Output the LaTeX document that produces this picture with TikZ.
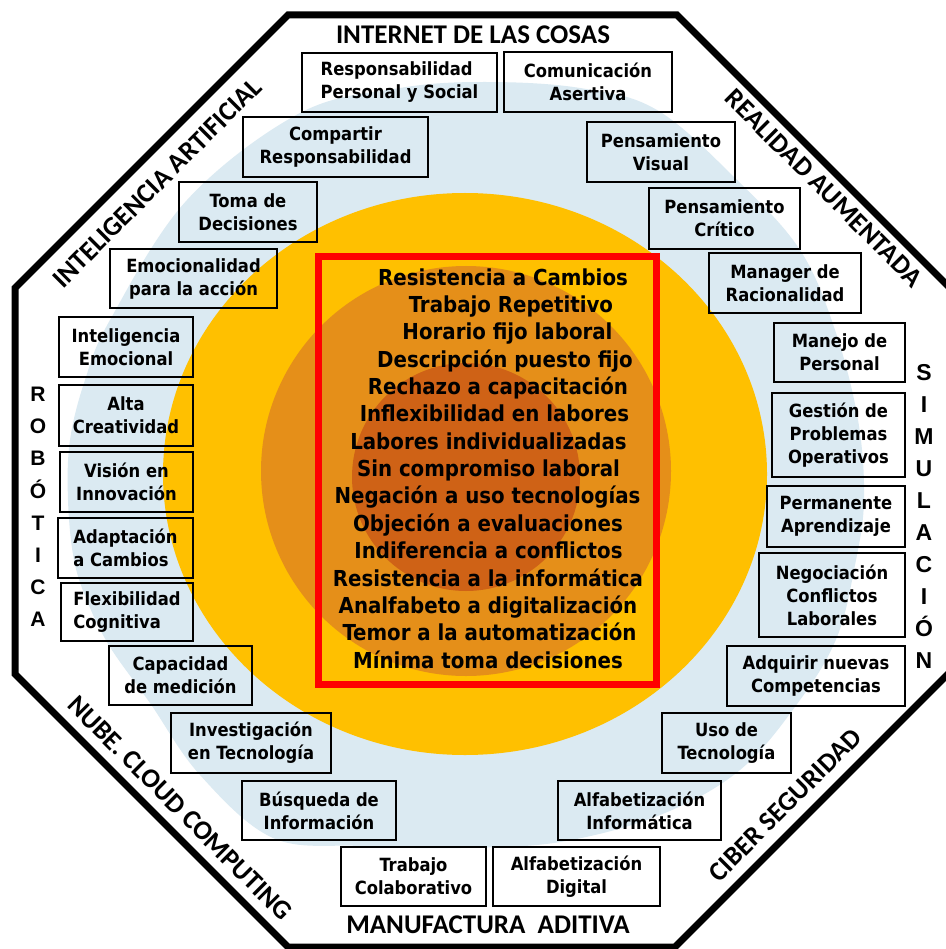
\documentclass[tikz,border=0pt]{standalone}
\usepackage{fontspec}
\usepackage{tikz}
\newfontfamily\cbfam{DejaVu Sans Condensed Bold}
\newfontfamily\carlfam{Carlito}
\newfontfamily\libfam{Liberation Sans}
\definecolor{skyfill}{RGB}{219,234,242}
\definecolor{goldfill}{RGB}{255,192,0}
\definecolor{amberfill}{RGB}{229,143,25}
\definecolor{rustfill}{RGB}{207,98,22}
\definecolor{redline}{RGB}{255,0,0}
\tikzset{
  cbox/.style={draw, line width=2pt, align=center, inner sep=0pt,
    font=\cbfam\fontsize{18.2}{23}\selectfont},
  cb/.style 2 args={cbox, minimum width=#1pt, minimum height=#2pt},
  risk/.style={anchor=base, inner sep=0pt, font=\cbfam\fontsize{22}{27}\selectfont},
  side/.style={inner sep=0pt, font=\carlfam\bfseries\fontsize{27}{30}\selectfont},
  vlet/.style={anchor=base, inner sep=0pt, font=\libfam\bfseries\fontsize{#1}{#1}\selectfont},
}

\begin{document}
\begin{tikzpicture}[x=1pt,y=-1pt]
  \useasboundingbox (0,0) rectangle (945,949);
  \fill[white] (0,0) rectangle (945,949);
  % rings
  \fill[skyfill] plot[smooth cycle, tension=0.6] coordinates {
    (485,82) (580,88) (657,110) (737,180) (800,250) (835,330) (858,420)
    (864,500) (855,565) (837,637) (800,700) (740,770) (660,815) (560,842)
    (460,848) (360,846) (273,838) (200,775) (150,703) (110,647) (88,603)
    (74,560) (68,500) (70,440) (85,380) (110,320) (187,200) (300,113) (400,88)};
  \fill[goldfill] (465,474) ellipse [x radius=302, y radius=281];
  \fill[amberfill] (466,471) circle [radius=205];
  \fill[rustfill] (466,477) circle [radius=114];
  \draw[redline, line width=7pt] (318.5,256.5) rectangle (656.5,684.5);
  % frame
  \draw[line width=7pt] (288,15) -- (677,15) -- (950,288) -- (950,672)
    -- (675,947) -- (288,947) -- (15,674) -- (15,288) -- cycle;

  \node[side] (iot) at (473,34.5) {INTERNET DE LAS COSAS};
  \node[side] (man) at (488,925) {MANUFACTURA\ \ ADITIVA};
  \node[side, rotate=45] (ia) at (157,183) {INTELIGENCIA ARTIFICIAL};
  \node[side, rotate=-45] (ra) at (824,188) {REALIDAD AUMENTADA};
  \node[side, rotate=-45] (nube) at (180,808) {NUBE. CLOUD COMPUTING};
  \node[side, rotate=45] (cib) at (785,805) {CIBER SEGURIDAD};

  \node[vlet=21] (rob1) at (38,401.7) {R};
  \node[vlet=21] (rob2) at (38,433.8) {O};
  \node[vlet=21] (rob3) at (38,465.9) {B};
  \node[vlet=21] (rob4) at (38,498.0) {Ó};
  \node[vlet=21] (rob5) at (38,530.1) {T};
  \node[vlet=21] (rob6) at (38,562.2) {I};
  \node[vlet=21] (rob7) at (38,594.3) {C};
  \node[vlet=21] (rob8) at (38,626.4) {A};

  \node[vlet=23] (sim1) at (924,380) {S};
  \node[vlet=23] (sim2) at (924,412) {I};
  \node[vlet=23] (sim3) at (924,444) {M};
  \node[vlet=23] (sim4) at (924,476) {U};
  \node[vlet=23] (sim5) at (924,508) {L};
  \node[vlet=23] (sim6) at (924,540) {A};
  \node[vlet=23] (sim7) at (924,572) {C};
  \node[vlet=23] (sim8) at (924,604) {I};
  \node[vlet=23] (sim9) at (924,636) {Ó};
  \node[vlet=23] (sim10) at (924,668) {N};

  % competencias
  \node[cb={195}{59}, align=left] (rps) at (399.5,82.5) {Responsabilidad\\Personal y Social};
  \node[cb={168}{60}] (com) at (588,82) {Comunicación\\Asertiva};
  \node[cb={185}{60}] (cmp) at (335.5,147) {Compartir\\Responsabilidad};
  \node[cb={148}{60}] (pvi) at (661,152) {Pensamiento\\Visual};
  \node[cb={138}{60}] (tdd) at (248,212) {Toma de\\Decisiones};
  \node[cb={151}{61}] (pcr) at (724.5,218.5) {Pensamiento\\Crítico};
  \node[cb={167}{59}] (emo) at (193.5,278.5) {Emocionalidad\\para la acción};
  \node[cb={152}{60}] (mgr) at (785,283) {Manager de\\Racionalidad};
  \node[cb={134}{60}] (iem) at (126,347) {Inteligencia\\Emocional};
  \node[cb={131}{59}] (mpe) at (839.5,352.5) {Manejo de\\Personal};
  \node[cb={134}{61}] (acr) at (126,415.5) {Alta\\Creatividad};
  \node[cb={133}{84}] (gpo) at (838.5,435) {Gestión de\\Problemas\\Operativos};
  \node[cb={133}{60}] (vin) at (126.5,482) {Visión en\\Innovación};
  \node[cb={138}{61}] (pap) at (836,516.5) {Permanente\\Aprendizaje};
  \node[cb={135}{60}, align=left] (aca) at (125.5,548) {Adaptación\\a Cambios};
  \node[cb={146}{84}] (ncl) at (832,595) {Negociación\\Conflictos\\Laborales};
  \node[cb={132}{58}, align=left] (fco) at (127,612) {Flexibilidad\\Cognitiva};
  \node[cb={143}{59}] (cme) at (180.5,675.5) {Capacidad\\de medición};
  \node[cb={178}{60}] (anc) at (816,676) {Adquirir nuevas\\Competencias};
  \node[cb={160}{60}] (ite) at (251,743) {Investigación\\en Tecnología};
  \node[cb={129}{60}] (ute) at (726.5,743) {Uso de\\Tecnología};
  \node[cb={154}{59}] (bin) at (319,810.5) {Búsqueda de\\Información};
  \node[cb={163}{59}] (ain) at (639.5,810.5) {Alfabetización\\Informática};
  \node[cb={145}{59}] (tco) at (413.5,876.5) {Trabajo\\Colaborativo};
  \node[cb={167}{59}] (adi) at (576.5,876.5) {Alfabetización\\Digital};

  % resistencias
  \node[risk] (r1) at (503,285) {Resistencia a Cambios};
  \node[risk] (r2) at (511,312.4) {Trabajo Repetitivo};
  \node[risk] (r3) at (507.5,339.7) {Horario fijo laboral};
  \node[risk] (r4) at (505,367.1) {Descripción puesto fijo};
  \node[risk] (r5) at (498,394.4) {Rechazo a capacitación};
  \node[risk] (r6) at (494.5,421.8) {Inflexibilidad en labores};
  \node[risk] (r7) at (488.5,449.2) {Labores individualizadas};
  \node[risk] (r8) at (488.5,476.5) {Sin compromiso laboral};
  \node[risk] (r9) at (487.5,503.9) {Negación a uso tecnologías};
  \node[risk] (r10) at (488,531.2) {Objeción a evaluaciones};
  \node[risk] (r11) at (488.5,558.6) {Indiferencia a conflictos};
  \node[risk] (r12) at (488,586) {Resistencia a la informática};
  \node[risk] (r13) at (488,613.3) {Analfabeto a digitalización};
  \node[risk] (r14) at (489.5,640.7) {Temor a la automatización};
  \node[risk] (r15) at (488,668) {Mínima toma decisiones};
\end{tikzpicture}
\end{document}
